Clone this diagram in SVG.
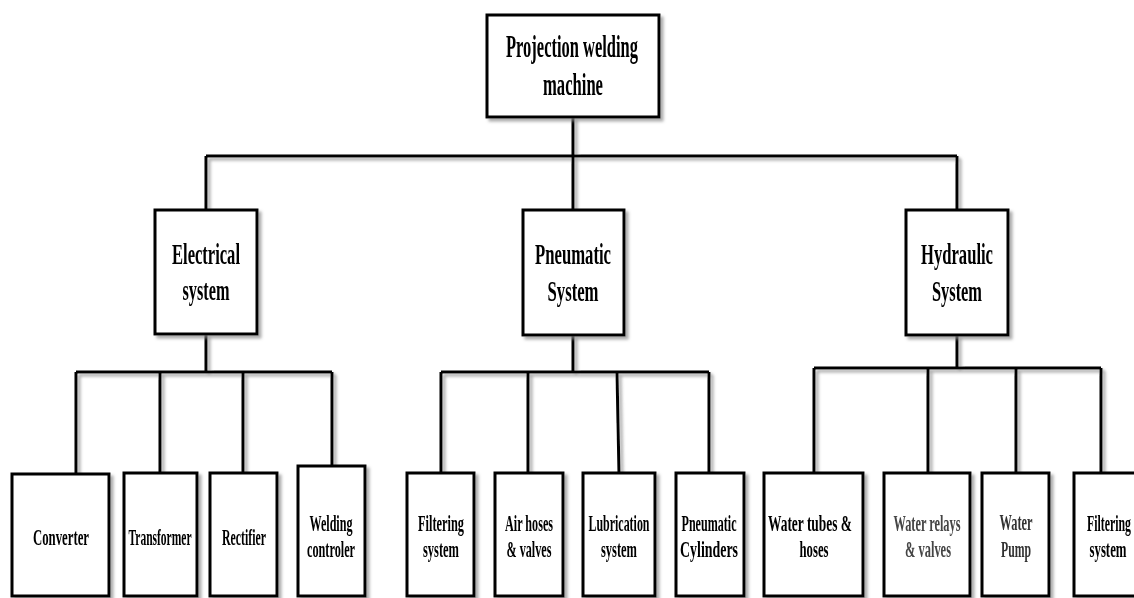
<svg xmlns="http://www.w3.org/2000/svg" width="1134" height="598" viewBox="0 0 1134 598">
<style>
.box{fill:#fff;stroke:#000;stroke-width:3}
.ln{fill:none;stroke:#000;stroke-width:3}
text{font-family:"Liberation Serif","Times New Roman",serif;font-weight:bold;fill:#000;text-anchor:middle}
.t1{font-size:31px}
.t2{font-size:30px}
.t3{font-size:24px}
</style>
<defs>
<filter id="sh" x="-10%" y="-10%" width="130%" height="130%">
<feDropShadow dx="3" dy="3" stdDeviation="1.5" flood-color="#888" flood-opacity="0.7"/>
</filter>
</defs>
<rect width="1134" height="598" fill="#fff"/>
<g id="connectors" filter="url(#sh)">
<path class="ln" d="M573 117V156M206 156H957M206 156V210M573 156V210M957 156V210"/>
<path class="ln" d="M206 334V372M76 372H332M76 372V474M160 372V473M243 372V473M332 372V466"/>
<path class="ln" d="M573 335V372M441 372H709M441 372V473M528 372V473M617 372L619 473M709 372V473"/>
<path class="ln" d="M957 335V368M814 368H1101M814 368V473M928 368V473M1016 368V473M1101 368V473"/>
</g>
<g id="root" filter="url(#sh)">
<rect class="box" x="487" y="15" width="172" height="102"/>
<text class="t1" x="572" y="57" textLength="132" lengthAdjust="spacingAndGlyphs">Projection welding</text>
<text class="t1" x="573" y="95" textLength="60" lengthAdjust="spacingAndGlyphs">machine</text>
</g>
<g id="electrical" filter="url(#sh)">
<rect class="box" x="155" y="210" width="102" height="124"/>
<text class="t2" x="206" y="264" textLength="68" lengthAdjust="spacingAndGlyphs">Electrical</text>
<text class="t2" x="206" y="300" textLength="47" lengthAdjust="spacingAndGlyphs">system</text>
</g>
<g id="pneumatic" filter="url(#sh)">
<rect class="box" x="523" y="210" width="101" height="125"/>
<text class="t2" x="573" y="264" textLength="76" lengthAdjust="spacingAndGlyphs">Pneumatic</text>
<text class="t2" x="573" y="301" textLength="51" lengthAdjust="spacingAndGlyphs">System</text>
</g>
<g id="hydraulic" filter="url(#sh)">
<rect class="box" x="906" y="210" width="102" height="125"/>
<text class="t2" x="957" y="264" textLength="72" lengthAdjust="spacingAndGlyphs">Hydraulic</text>
<text class="t2" x="957" y="301" textLength="50" lengthAdjust="spacingAndGlyphs">System</text>
</g>
<g id="converter" filter="url(#sh)">
<rect class="box" x="12" y="474" width="97" height="122"/>
<text class="t3" x="61" y="545" textLength="56" lengthAdjust="spacingAndGlyphs">Converter</text>
</g>
<g id="transformer" filter="url(#sh)">
<rect class="box" x="124" y="473" width="73" height="123"/>
<text class="t3" x="160" y="545" textLength="63" lengthAdjust="spacingAndGlyphs">Transformer</text>
</g>
<g id="rectifier" filter="url(#sh)">
<rect class="box" x="210" y="473" width="67" height="123"/>
<text class="t3" x="244" y="545" textLength="44" lengthAdjust="spacingAndGlyphs">Rectifier</text>
</g>
<g id="welding-controler" filter="url(#sh)">
<rect class="box" x="298" y="466" width="67" height="130"/>
<text class="t3" x="331" y="531" textLength="43" lengthAdjust="spacingAndGlyphs">Welding</text>
<text class="t3" x="331" y="557" textLength="48" lengthAdjust="spacingAndGlyphs">controler</text>
</g>
<g id="filtering-pneu" filter="url(#sh)">
<rect class="box" x="407" y="473" width="67" height="123"/>
<text class="t3" x="441" y="531" textLength="46" lengthAdjust="spacingAndGlyphs">Filtering</text>
<text class="t3" x="441" y="557" textLength="36" lengthAdjust="spacingAndGlyphs">system</text>
</g>
<g id="air-hoses" filter="url(#sh)">
<rect class="box" x="495" y="473" width="68" height="123"/>
<text class="t3" x="529" y="531" textLength="48" lengthAdjust="spacingAndGlyphs">Air hoses</text>
<text class="t3" x="529" y="557" textLength="45" lengthAdjust="spacingAndGlyphs">&amp; valves</text>
</g>
<g id="lubrication" filter="url(#sh)">
<rect class="box" x="583" y="473" width="72" height="123"/>
<text class="t3" x="619" y="531" textLength="61" lengthAdjust="spacingAndGlyphs">Lubrication</text>
<text class="t3" x="619" y="557" textLength="36" lengthAdjust="spacingAndGlyphs">system</text>
</g>
<g id="pneumatic-cylinders" filter="url(#sh)">
<rect class="box" x="676" y="473" width="68" height="123"/>
<text class="t3" x="709" y="531" textLength="55" lengthAdjust="spacingAndGlyphs">Pneumatic</text>
<text class="t3" x="709" y="557" textLength="58" lengthAdjust="spacingAndGlyphs">Cylinders</text>
</g>
<g id="water-tubes" filter="url(#sh)">
<rect class="box" x="764" y="473" width="99" height="123"/>
<text class="t3" x="810" y="531" textLength="84" lengthAdjust="spacingAndGlyphs">Water tubes &amp;</text>
<text class="t3" x="814" y="557" textLength="29" lengthAdjust="spacingAndGlyphs">hoses</text>
</g>
<g id="water-relays" filter="url(#sh)">
<rect class="box" x="884" y="473" width="86" height="123"/>
<text class="t3" x="927" y="531" textLength="67" lengthAdjust="spacingAndGlyphs" style="fill:#444">Water relays</text>
<text class="t3" x="928" y="557" textLength="46" lengthAdjust="spacingAndGlyphs" style="fill:#444">&amp; valves</text>
</g>
<g id="water-pump" filter="url(#sh)">
<rect class="box" x="982" y="473" width="67" height="123"/>
<text class="t3" x="1016" y="530" textLength="33" lengthAdjust="spacingAndGlyphs" style="fill:#333">Water</text>
<text class="t3" x="1016" y="557" textLength="30" lengthAdjust="spacingAndGlyphs" style="fill:#333">Pump</text>
</g>
<g id="filtering-hyd" filter="url(#sh)">
<rect class="box" x="1074" y="473" width="66" height="123"/>
<text class="t3" x="1109" y="531" textLength="44" lengthAdjust="spacingAndGlyphs">Filtering</text>
<text class="t3" x="1108" y="557" textLength="37" lengthAdjust="spacingAndGlyphs">system</text>
</g>
</svg>
